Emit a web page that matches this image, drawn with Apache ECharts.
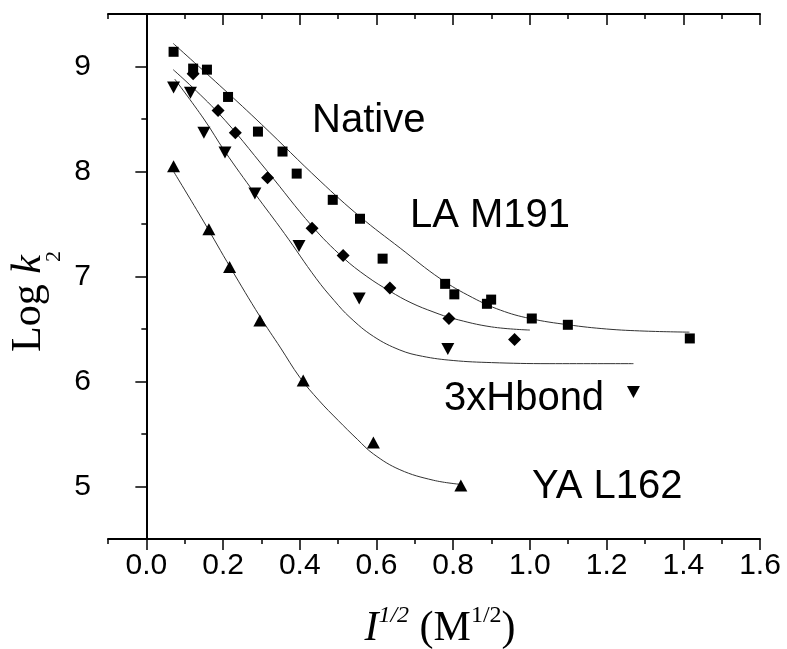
<!DOCTYPE html>
<html>
<head>
<meta charset="utf-8">
<script src="https://cdn.jsdelivr.net/npm/echarts@6/dist/echarts.min.js"></script>
<style>html,body{margin:0;padding:0;background:#fff}#c{width:787px;height:649px}</style>
</head>
<body>
<div id="c"></div>
<script>
// ---- data (x = I^1/2, y = Log k2) ----
const nativePts = [[0.071,9.14],[0.122,8.98],[0.158,8.97],[0.213,8.71],[0.291,8.38],[0.355,8.19],[0.392,7.98],[0.486,7.73],[0.557,7.55],[0.616,7.17],[0.779,6.93],[0.803,6.83],[0.888,6.74],[0.899,6.78],[1.005,6.60],[1.099,6.54],[1.417,6.41]];
const laPts = [[0.122,8.93],[0.187,8.58],[0.232,8.37],[0.316,7.94],[0.432,7.46],[0.513,7.20],[0.635,6.89],[0.789,6.60],[0.960,6.40]];
const hbPts = [[0.071,8.80],[0.115,8.75],[0.150,8.37],[0.205,8.18],[0.283,7.79],[0.398,7.29],[0.555,6.79],[0.786,6.31],[1.27,5.90]];
const yaPts = [[0.071,8.05],[0.163,7.45],[0.217,7.09],[0.296,6.58],[0.409,6.01],[0.592,5.42],[0.820,5.01]];

const nativeFit = [[0.07,9.22],[0.2,8.79],[0.3,8.45],[0.453,7.91],[0.557,7.57],[0.662,7.27],[0.766,6.98],[0.85,6.80],[0.923,6.68],[1.0,6.60],[1.1,6.54],[1.2,6.50],[1.3,6.48],[1.416,6.47]];
const laFit = [[0.07,8.97],[0.187,8.56],[0.316,8.0],[0.432,7.48],[0.513,7.18],[0.575,7.0],[0.635,6.86],[0.69,6.75],[0.75,6.66],[0.8,6.60],[0.9,6.52],[1.0,6.49]];
const hbFit = [[0.074,8.88],[0.15,8.50],[0.205,8.19],[0.283,7.79],[0.36,7.41],[0.443,6.98],[0.49,6.77],[0.531,6.61],[0.592,6.43],[0.661,6.30],[0.72,6.24],[0.8,6.20],[0.9,6.18],[1.05,6.17],[1.27,6.17]];
const yaFit = [[0.071,8.0],[0.15,7.52],[0.22,7.08],[0.296,6.62],[0.35,6.32],[0.40,6.04],[0.45,5.82],[0.5,5.63],[0.55,5.45],[0.592,5.31],[0.661,5.16],[0.748,5.06],[0.82,5.02]];

const xMajor = [0,0.2,0.4,0.6,0.8,1.0,1.2,1.4,1.6];
const yMajor = [5,6,7,8,9];
const seriesNames = ['Native','LA M191','3xHbond','YA L162'];

const chart = echarts.init(document.getElementById('c'), null, {renderer:'canvas'});
const sans = '"Liberation Sans", Arial, Helvetica, sans-serif';
const serif = '"Liberation Serif", "Times New Roman", serif';
const axLine = {show:true, lineStyle:{color:'#000', width:2}};
const noLine = {show:false};
function xAx(pos, major, inside){
  const a = {type:'value', position:pos, min:-0.1, max:1.6, interval:0.1, splitLine:{show:false},
    axisLine: major ? noLine : axLine,
    axisTick:{show:true, inside:inside, length: major?11:5, lineStyle:{color:'#000', width:1.5}},
    axisLabel:{show:false}};
  if (major){ a.axisTick.customValues = xMajor; }
  if (major && pos==='bottom'){ a.axisLabel = {show:true, customValues:xMajor, formatter:v=>v.toFixed(1), fontSize:30, fontFamily:sans, color:'#000', margin:12}; }
  else if (major){ a.axisLabel = {show:false, customValues:xMajor}; }
  return a;
}
function yAx(pos, major, inside){
  const a = {type:'value', position:pos, min:4.5, max:9.5, interval:0.5, splitLine:{show:false},
    axisLine: major ? noLine : axLine,
    axisTick:{show:true, inside:inside, length: major?11:5, lineStyle:{color:'#000', width:1.5}},
    axisLabel:{show:false}};
  if (major){ a.axisTick.customValues = yMajor; }
  if (major && pos==='left'){ a.axisLabel = {show:true, customValues:yMajor, formatter:v=>String(v), fontSize:30, fontFamily:sans, color:'#000', margin:17}; }
  else if (major){ a.axisLabel = {show:false, customValues:yMajor}; }
  return a;
}
const mk = {color:'#000', opacity:1};
const fitStyle = {color:'#333', width:1};
function fit(d){ return {type:'line', data:d, smooth:0.4, showSymbol:false, symbol:'none', lineStyle:fitStyle, silent:true, z:2}; }

chart.setOption({
  animation:false,
  backgroundColor:'#fff',
  grid:{left:108, right:27, top:14, bottom:110, containLabel:false, outerBoundsMode:'none'},
  xAxis:[xAx('bottom',false,false), xAx('bottom',true,false), xAx('top',false,true), xAx('top',true,true)],
  yAxis:[yAx('left',false,false), yAx('left',true,false), yAx('right',false,true), yAx('right',true,true)],
  series:[
    fit(nativeFit), fit(laFit), fit(hbFit), fit(yaFit),
    {name:seriesNames[0], type:'scatter', data:nativePts, symbol:'rect', symbolSize:10, itemStyle:mk, z:3},
    {name:seriesNames[1], type:'scatter', data:laPts, symbol:'diamond', symbolSize:13, itemStyle:mk, z:3},
    {name:seriesNames[2], type:'scatter', data:hbPts, symbol:'triangle', symbolRotate:180, symbolSize:[13,12], itemStyle:mk, z:3},
    {name:seriesNames[3], type:'scatter', data:yaPts, symbol:'triangle', symbolSize:[13,12], itemStyle:mk, z:3}
  ],
  graphic:[
    {type:'text', x:312, y:121, style:{text:seriesNames[0], font:'40px '+sans, fill:'#000', verticalAlign:'middle'}},
    {type:'text', x:410, y:216, style:{text:seriesNames[1], font:'40px '+sans, fill:'#000', verticalAlign:'middle'}},
    {type:'text', x:444, y:399, style:{text:seriesNames[2], font:'40px '+sans, fill:'#000', verticalAlign:'middle'}},
    {type:'text', x:532, y:487, style:{text:seriesNames[3], font:'40px '+sans, fill:'#000', verticalAlign:'middle'}},
    {type:'text', x:29, y:352, rotation:Math.PI/2, style:{text:'{n|Log }{k|k}', fill:'#000', align:'left', verticalAlign:'middle',
      rich:{n:{fontSize:42, fontFamily:serif}, k:{fontSize:42, fontFamily:serif, fontStyle:'italic'}}}},
    {type:'text', x:54, y:262, rotation:Math.PI/2, style:{text:'2', font:'22px '+serif, fill:'#000', align:'left', verticalAlign:'middle'}},
    {type:'text', x:440, y:627, style:{text:'{i|I}{s|1/2}{n| (M}{t|1/2}{n|)}', fill:'#000', align:'center', verticalAlign:'middle',
      rich:{i:{fontSize:42, fontFamily:serif, fontStyle:'italic', lineHeight:46, verticalAlign:'bottom'},
            s:{fontSize:24, fontFamily:serif, fontStyle:'italic', lineHeight:24, verticalAlign:'top'},
            n:{fontSize:42, fontFamily:serif, lineHeight:46, verticalAlign:'bottom'},
            t:{fontSize:24, fontFamily:serif, lineHeight:24, verticalAlign:'top'}}}}
  ]
});
</script>
</body>
</html>
